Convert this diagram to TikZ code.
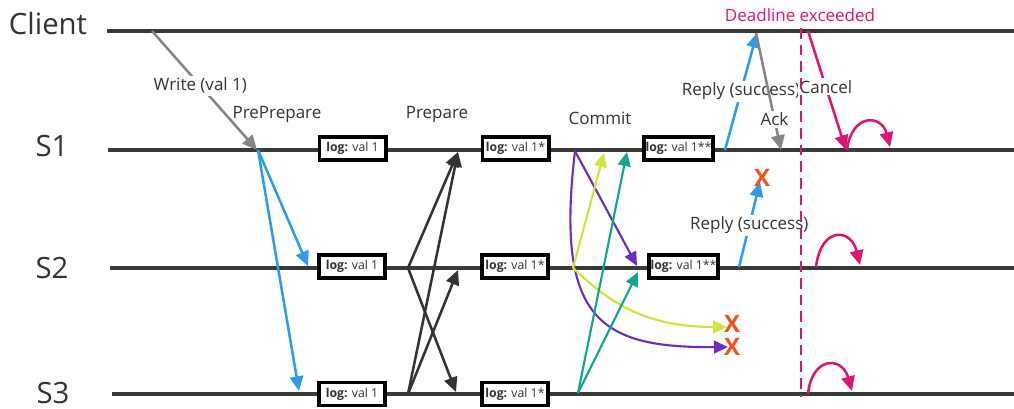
\documentclass[tikz,border=0pt]{standalone}
\usepackage{fontspec}
\setmainfont{Open Sans}
\usetikzlibrary{arrows.meta}

\definecolor{lanecol}{HTML}{3A3A3A}
\definecolor{txt}{HTML}{333333}
\definecolor{writegray}{HTML}{858585}
\definecolor{ppblue}{HTML}{2D9CF0}
\definecolor{prepdark}{HTML}{333333}
\definecolor{cpurple}{HTML}{6A2FC2}
\definecolor{cyellow}{HTML}{CFE43C}
\definecolor{cteal}{HTML}{13A68A}
\definecolor{dpink}{HTML}{DF1472}
\definecolor{xred}{HTML}{F4511E}

\begin{document}
\begin{tikzpicture}[x=0.75pt,y=-0.75pt,
  lane/.style={draw=lanecol, line width=2.4pt},
  lanelbl/.style={text=txt, font=\fontsize{22}{24}\selectfont, anchor=base, inner sep=0pt},
  msg/.style={line width=1.9pt, -{Triangle[length=11pt,width=10pt]}},
  cmsg/.style={line width=1.6pt, -{Triangle[length=10.5pt,width=9.5pt]}},
  lbl/.style={fill=white, text=txt, font=\fontsize{12.75}{14}\selectfont, inner sep=1.5pt},
  phase/.style={text=txt, font=\fontsize{12.75}{14}\selectfont, inner sep=0pt},
  logbox/.style={draw=black, line width=2.8pt, fill=white, minimum width=49.7pt,
    minimum height=17.4pt, inner sep=1pt, text=txt, font=\fontsize{9.2}{10}\selectfont},
  lost/.style={text=xred, font=\fontsize{18}{18}\bfseries, inner sep=0pt}]

\useasboundingbox (0,0) rectangle (1014,409);

% lifelines
\node[lanelbl] (lc) at (48,35) {Client};
\node[lanelbl] (l1) at (52,157) {S1};
\node[lanelbl] (l2) at (52,279) {S2};
\node[lanelbl] (l3) at (53,404) {S3};
\coordinate (c0) at (107,31);  \coordinate (c9) at (1014,31);
\coordinate (s10) at (108,150); \coordinate (s19) at (1014,150);
\coordinate (s20) at (110,268); \coordinate (s29) at (1014,268);
\coordinate (s30) at (112,394); \coordinate (s39) at (1014,394);
\draw[lane] (c0) -- (c9);
\draw[lane] (s10) -- (s19);
\draw[lane] (s20) -- (s29);
\draw[lane] (s30) -- (s39);

% client request
\coordinate (w0) at (152,31);
\coordinate (w1) at (257,150);
\draw[msg, draw=writegray] (w0) -- node[lbl, pos=0.46] {Write (val 1)} (w1);

% phase captions
\node[phase] (tpp) at (277,114) {PrePrepare};
\node[phase] (tp) at (437,114) {Prepare};
\node[phase] (tc) at (600,118) {Commit};

% log boxes
\node[logbox] (b11) at (352.5,148.5) {\textbf{log:} val 1};
\node[logbox] (b12) at (515.5,148.5) {\textbf{log:} val 1*};
\node[logbox] (b13) at (678.5,148.5) {\textbf{log:} val 1**};
\node[logbox] (b21) at (352,266.5) {\textbf{log:} val 1};
\node[logbox] (b22) at (515,266.5) {\textbf{log:} val 1*};
\node[logbox] (b23) at (683.5,266.5) {\textbf{log:} val 1**};
\node[logbox] (b31) at (352,394) {\textbf{log:} val 1};
\node[logbox] (b32) at (515,394) {\textbf{log:} val 1*};

% pre-prepare
\coordinate (pp) at (258,150);
\coordinate (pp2) at (308,266);
\coordinate (pp3) at (299,391);
\draw[msg, draw=ppblue] (pp) -- (pp2);
\draw[msg, draw=ppblue] (pp) -- (pp3);

% prepare
\coordinate (p2) at (408,268);
\coordinate (p3) at (408,394);
\coordinate (p1t) at (458,152);
\coordinate (p2t) at (458,270);
\coordinate (p3t) at (456,392);
\draw[msg, draw=prepdark] (p2) -- (p1t);
\draw[msg, draw=prepdark] (p2) -- (p3t);
\draw[msg, draw=prepdark] (p3) -- (p1t);
\draw[msg, draw=prepdark] (p3) -- (p2t);

% commit
\coordinate (k1) at (575,151);
\coordinate (k2) at (573,268);
\coordinate (k3) at (578,393);
\coordinate (k12) at (637,266);
\coordinate (k1x) at (728,347);
\coordinate (k21) at (604,153);
\coordinate (k2x) at (727,327);
\coordinate (k31) at (627,152);
\coordinate (k32) at (638,272);
\draw[cmsg, draw=cpurple] (k1) -- (k12);
\draw[cmsg, draw=cpurple] (k1) .. controls (555,320) and (600,348) .. (k1x);
\draw[cmsg, draw=cyellow] (k2) -- (k21);
\draw[cmsg, draw=cyellow] (k2) .. controls (605,298) and (640,327) .. (k2x);
\draw[cmsg, draw=cteal] (k3) -- (k31);
\draw[cmsg, draw=cteal] (k3) -- (k32);

% replies
\coordinate (r1) at (725,150);
\coordinate (r1t) at (757,33);
\coordinate (r2) at (739,267);
\coordinate (r2t) at (760,182);
\draw[msg, draw=ppblue] (r1) -- node[lbl, pos=0.5] {Reply (success)} (r1t);
\draw[msg, draw=ppblue] (r2) -- node[lbl, pos=0.49] {Reply (success)} (r2t);

% acknowledgement to S1
\coordinate (a0) at (756,33);
\coordinate (a1) at (781,150);
\draw[msg, draw=writegray] (a0) -- node[lbl, pos=0.74] {Ack} (a1);

% lost messages
\node[lost] (x1) at (732,324) {X};
\node[lost] (x2) at (732,347) {X};
\node[lost] (x3) at (762,178) {X};

% cancellation
\coordinate (q0) at (808,31);
\coordinate (q1) at (846,150);
\draw[msg, draw=dpink] (q0) -- node[lbl, pos=0.47] {Cancel} (q1);
\coordinate (u1a) at (847,150); \coordinate (u1b) at (890,147);
\coordinate (u2a) at (816,267); \coordinate (u2b) at (860,265);
\coordinate (u3a) at (808,394); \coordinate (u3b) at (852,391);
\draw[msg, draw=dpink] (u1a) .. controls (852,112) and (882,115) .. (u1b);
\draw[msg, draw=dpink] (u2a) .. controls (821,226) and (851,228) .. (u2b);
\draw[msg, draw=dpink] (u3a) .. controls (812,356) and (842,356) .. (u3b);

% deadline
\coordinate (d0) at (801,28);
\coordinate (d1) at (801,397);
\draw[draw=dpink, line width=2.2pt, dash pattern=on 8pt off 4.5pt] (d0) -- (d1);
\node[text=dpink, font=\fontsize{12.75}{14}\selectfont, inner sep=0pt] (dl) at (800,15) {Deadline exceeded};
\end{tikzpicture}
\end{document}
